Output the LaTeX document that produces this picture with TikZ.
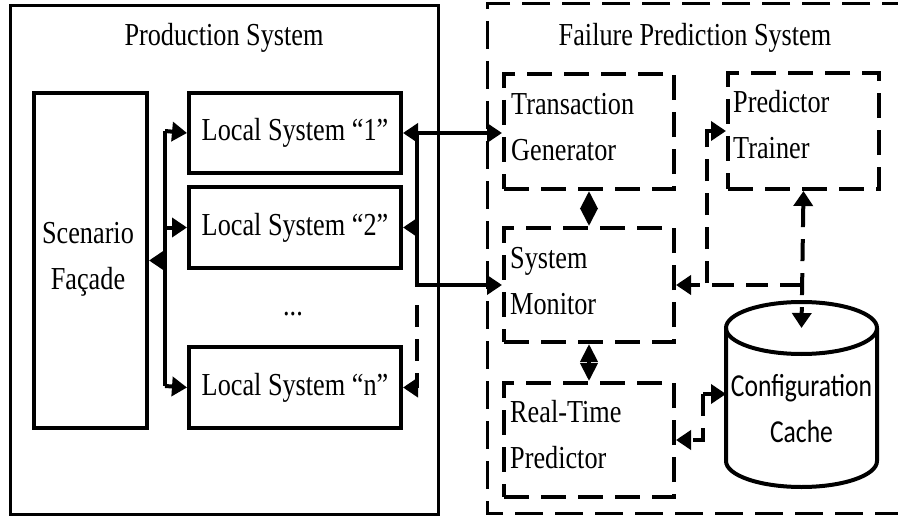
\documentclass[tikz,border=0pt]{standalone}
\usepackage{fontspec}
\setmainfont{Liberation Serif}[FakeStretch=0.82]
\newfontfamily\cfont{Carlito}[FakeStretch=0.8]
\usetikzlibrary{arrows.meta}
\begin{document}
\begin{tikzpicture}[x=1pt,y=-1pt,
  every node/.style={font=\fontsize{32}{46}\selectfont, inner sep=0pt},
  sbox/.style={draw, line width=4pt, anchor=north west},
  dbox/.style={draw, line width=4pt, dash pattern=on 25pt off 12pt, anchor=north west},
  conn/.style={line width=4pt, >={Triangle[length=15pt,width=19pt]}},
  dconn/.style={conn, dash pattern=on 22pt off 12pt},
  vconn/.style={line width=4pt, >={Triangle[length=18pt,width=17pt]}},
  lbl/.style={anchor=west, align=left}
]
\useasboundingbox (0,0) rectangle (898,519);

% frames
\node[draw, line width=3pt, minimum width=428pt, minimum height=509pt, anchor=north west] (ps) at (9,4) {};
\node[anchor=base] (pst) at (224,46) {Production System};
\draw[line width=3pt, dash pattern=on 28pt off 12pt] (910,4) -- (487,4) -- (487,513) -- (910,513);
\node[anchor=base] (fpt) at (695,46) {Failure Prediction System};

% production system
\node[sbox, minimum width=113pt, minimum height=335pt] (sf) at (32,91) {};
\node[align=center] (sft) at (88,259) {Scenario\\Façade};
\node[sbox, minimum width=212pt, minimum height=80pt] (ls1) at (187,91) {};
\node (ls1t) at (ls1.center) {Local System “1”};
\node[sbox, minimum width=212pt, minimum height=81pt] (ls2) at (187,185) {};
\node (ls2t) at (ls2.center) {Local System “2”};
\node (dots) at (293,314) {...};
\node[sbox, minimum width=212pt, minimum height=81pt] (lsn) at (187,345) {};
\node (lsnt) at (lsn.center) {Local System “n”};

% failure prediction system
\node[dbox, minimum width=170pt, minimum height=115pt] (tg) at (502,72) {};
\node[lbl] (tgt) at (511,127) {Transaction\\Generator};
\node[dbox, minimum width=170pt, minimum height=114pt] (sm) at (502,226) {};
\node[lbl] (smt) at (510,281) {System\\Monitor};
\node[dbox, minimum width=170pt, minimum height=114pt] (rtp) at (502,381) {};
\node[lbl] (rtpt) at (510,435) {Real-Time\\Predictor};
\node[dbox, minimum width=151pt, minimum height=116pt] (pt) at (726,71) {};
\node[lbl] (ptt) at (733,125) {Predictor\\Trainer};

% configuration cache cylinder
\draw[line width=4pt] (726,328) -- (726,461) arc[start angle=180, end angle=0, x radius=75.5, y radius=26] -- (877,328);
\draw[line width=4pt] (801.5,328) ellipse[x radius=75.5, y radius=26];
\node[align=center, font=\cfont\fontsize{32}{46}\selectfont] (cc) at (801.5,409) {Configuration\\Cache};
\coordinate (ctop) at (801.5,328);
\coordinate (cleft) at (726,394);

% left bus
\coordinate (lb1) at (165,131);
\coordinate (lbn) at (165,386);
\draw[conn] (lb1) -- (lbn);
\draw[conn,->] (lb1) -- (ls1.west);
\draw[conn,->] (lb1 |- ls2.west) -- (ls2.west);
\draw[conn,->] (lbn) -- (lsn.west);
\draw[conn,->] (lb1 |- sf.east) -- (sf.east);

% right bus
\coordinate (rb1) at (417,131);
\draw[conn,<->] (ls1.east) -- (tg.west |- ls1.east);
\draw[conn,->] (rb1) |- (sm.west);
\draw[conn,->] (rb1 |- ls2.east) -- (ls2.east);
\coordinate (rbd) at (417,305);
\draw[dconn,->] (rbd) |- (lsn.east);

% inner connections
\draw[vconn,<->] (tg.south) -- (sm.north);
\draw[vconn,<->] (sm.south) -- (rtp.north);
\draw[dconn,->] (ctop |- sm.east) -- (sm.east);
\coordinate (jm) at (707,283);
\draw[dconn,->] (jm) |- (pt.west);
\draw[dconn,<->] (pt.south) -- (ctop);
\coordinate (jc) at (703,394);
\draw[conn,->] (jc) -- (cleft);
\draw[dconn,->] (jc) |- (rtp.east);
\end{tikzpicture}
\end{document}
